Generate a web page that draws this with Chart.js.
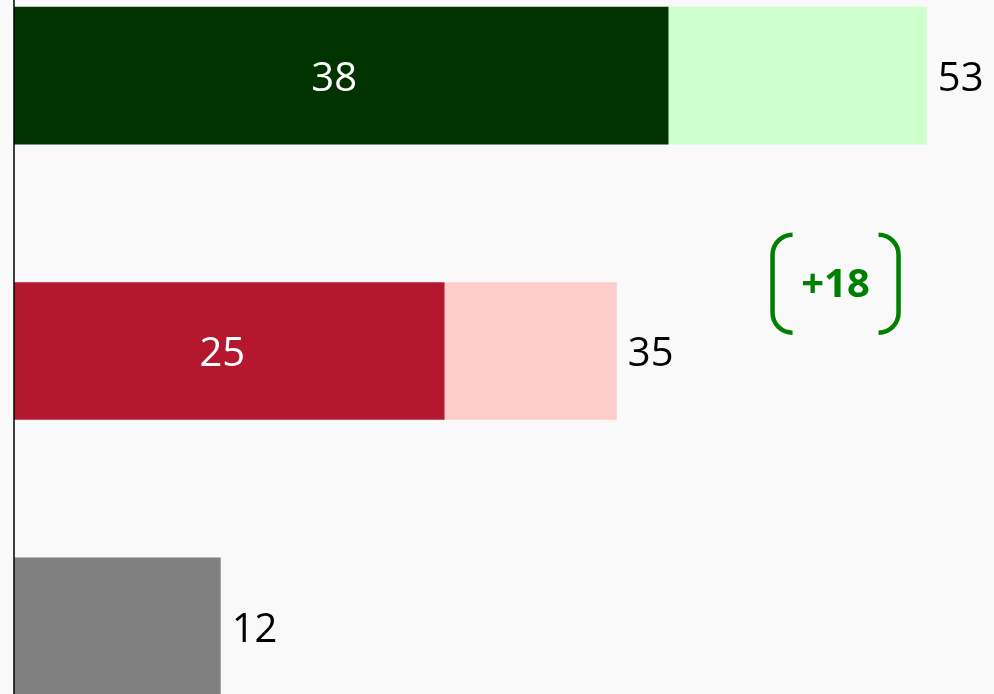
<!DOCTYPE html>
<html>
<head>
<meta charset="utf-8">
<script src="https://cdn.jsdelivr.net/npm/chart.js@4/dist/chart.umd.min.js"></script>
<style>
    html, body { margin: 0; padding: 0; background: #f9f9f9; overflow: hidden; }
    #wrap { position: absolute; left: 0; top: -62px; width: 994px; height: 826px; }
</style>
</head>
<body>
<div id="wrap"><canvas id="barChart"></canvas></div>
<script>
// 데이터
var categories = ['A', 'B', 'C'];
var baseValues = [38, 25, 12];
var extraValues = [15, 10, 0];
var baseColors = ['#003300', '#b5182e', '#808080'];
var extraColors = ['#ccffcc', '#ffcccc', '#808080'];
var diffLabel = '+18';

var totals = baseValues.map(function (v, i) { return v + extraValues[i]; });

// 값 라벨 + 괄호 표시
var labelPlugin = {
    id: 'labelPlugin',
    afterDatasetsDraw: function (chart) {
        var ctx = chart.ctx;
        var x = chart.scales.x;
        var y = chart.scales.y;
        var area = chart.chartArea;

        // 축 선
        ctx.save();
        ctx.strokeStyle = '#000';
        ctx.lineWidth = 1.5;
        ctx.beginPath();
        ctx.moveTo(area.left, area.top);
        ctx.lineTo(area.left, area.bottom);
        ctx.stroke();

        ctx.font = '40px "Open Sans"';
        ctx.textBaseline = 'middle';
        for (var i = 0; i < categories.length; i++) {
            var yc = y.getPixelForValue(i) + 4;
            if (extraValues[i] > 0) {
                ctx.fillStyle = '#fff';
                ctx.textAlign = 'center';
                ctx.fillText(String(baseValues[i]), x.getPixelForValue(baseValues[i] / 2) - 7, yc);
            }
            ctx.fillStyle = '#000';
            ctx.textAlign = 'left';
            ctx.fillText(String(totals[i]), x.getPixelForValue(totals[i]) + 11, yc);
        }

        // +18 괄호
        var cx = x.getPixelForValue(47.7);
        var cy = y.getPixelForValue(0.756);
        ctx.strokeStyle = '#008000';
        ctx.lineWidth = 4.5;
        ctx.lineCap = 'butt';
        var hw = 63, hh = 49, r = 20;
        ctx.beginPath();
        ctx.moveTo(cx - hw + r, cy - hh);
        ctx.arcTo(cx - hw, cy - hh, cx - hw, cy - hh + r, r);
        ctx.lineTo(cx - hw, cy + hh - r);
        ctx.arcTo(cx - hw, cy + hh, cx - hw + r, cy + hh, r);
        ctx.stroke();
        ctx.beginPath();
        ctx.moveTo(cx + hw - r, cy - hh);
        ctx.arcTo(cx + hw, cy - hh, cx + hw, cy - hh + r, r);
        ctx.lineTo(cx + hw, cy + hh - r);
        ctx.arcTo(cx + hw, cy + hh, cx + hw - r, cy + hh, r);
        ctx.stroke();
        ctx.fillStyle = '#008000';
        ctx.font = 'bold 40px "Open Sans"';
        ctx.textAlign = 'center';
        ctx.fillText(diffLabel, cx, cy + 2);
        ctx.restore();
    }
};

new Chart(document.getElementById('barChart').getContext('2d'), {
    type: 'bar',
    data: {
        labels: categories,
        datasets: [
            { data: baseValues, backgroundColor: baseColors, borderWidth: 0 },
            { data: extraValues, backgroundColor: extraColors, borderWidth: 0 }
        ]
    },
    options: {
        indexAxis: 'y',
        responsive: true,
        maintainAspectRatio: false,
        animation: false,
        layout: { padding: { left: 14, right: 0, top: 0, bottom: 0 } },
        datasets: { bar: { barPercentage: 0.5, categoryPercentage: 1 } },
        plugins: { legend: { display: false }, tooltip: { enabled: false } },
        scales: {
            x: { stacked: true, display: false, min: 0, max: 56.9 },
            y: { stacked: true, display: false }
        }
    },
    plugins: [labelPlugin]
});
</script>
</body>
</html>
